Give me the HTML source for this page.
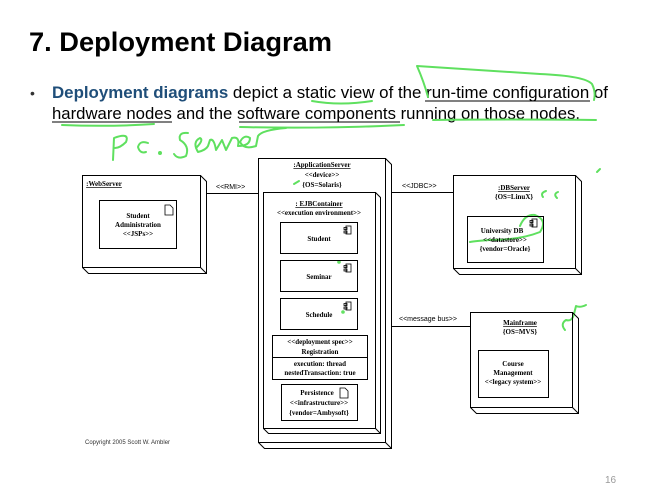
<!DOCTYPE html>
<html><head><meta charset="utf-8"><style>
html,body{margin:0;padding:0;background:#fff;}
svg{display:block;}
.s{font-family:"Liberation Serif",serif;font-weight:bold;font-size:7px;fill:#000;text-anchor:middle;}
.a{font-family:"Liberation Sans",sans-serif;font-size:7px;fill:#000;}
</style></head><body>
<svg width="649" height="501" viewBox="0 0 649 501" xmlns="http://www.w3.org/2000/svg">
<rect width="649" height="501" fill="#fff"/>
<text x="29" y="51" font-family="Liberation Sans, sans-serif" font-weight="bold" font-size="27" fill="#000" textLength="303" lengthAdjust="spacingAndGlyphs">7. Deployment Diagram</text>
<text x="30" y="98" font-family="Liberation Sans, sans-serif" font-size="14" fill="#333">•</text>
<text x="52" y="98" font-family="Liberation Sans, sans-serif" font-size="16.5" fill="#000" textLength="556" lengthAdjust="spacingAndGlyphs"><tspan font-weight="bold" fill="#1f4e79">Deployment diagrams</tspan> depict a static view of the run-time configuration of</text>
<text x="52" y="119" font-family="Liberation Sans, sans-serif" font-size="16.5" fill="#000" textLength="528" lengthAdjust="spacingAndGlyphs">hardware nodes and the software components running on those nodes.</text>
<g stroke="#000" stroke-width="1">
<line x1="425" y1="101" x2="590" y2="101"/>
<line x1="52" y1="122" x2="172" y2="122"/>
<line x1="239" y1="122" x2="400" y2="122"/>
</g>
<g fill="none" stroke="#5fe05f" stroke-width="2" stroke-linecap="round" stroke-linejoin="round">
<path d="M417 66 Q424 82 428 97 M417 66 Q480 70 540 74 Q585 76 592 84 Q596 92 594 100"/>
<path d="M312 101 Q340 106 372 101"/>
<path d="M62 125 Q110 127 154 124"/>
<path d="M240 127 Q320 129 404 125"/>
<path d="M433 120 Q510 119 596 120"/>
<path d="M113 160 L114 138 Q130 132 126 142 Q120 148 115 148"/>
<path d="M148 143 Q140 140 138 147 Q140 154 146 152"/>
<circle cx="160" cy="153" r="1"/>
<path d="M188 133 Q178 132 180 140 Q190 146 186 156 Q178 160 174 154"/>
<path d="M196 148 Q204 140 200 138 Q192 142 198 152 Q206 150 208 146 L210 140 Q214 138 216 150 L222 140 L226 150 L232 138 Q240 136 238 146 Q250 146 250 138 Q244 134 240 142 Q244 150 256 146 L258 136 Q262 130 286 128"/>
<path d="M546 191 Q540 193 543 197 M558 192 Q553 194 557 198"/>
<path d="M597 172 L600 169"/>
<path d="M294 184 L299 181"/>
<path d="M520 226 Q525 214 535 215 Q548 220 540 232 Q520 240 490 240 Q475 241 470 242"/>
<path d="M565 330 Q560 324 566 320 Q572 322 574 314 L576 306 Q580 308 586 305"/>
<circle cx="339" cy="262" r="0.8"/>
<circle cx="343" cy="312" r="0.8"/>
</g>
<g fill="none" stroke="#000" stroke-width="1">
<rect x="82.5" y="175.5" width="118" height="92"/>
<path d="M200.5 175.5 L206.5 181.5 L206.5 273.5 L88.5 273.5 L82.5 267.5"/>
<line x1="200.5" y1="267.5" x2="206.5" y2="273.5"/>
<rect x="99.5" y="200.5" width="77" height="48"/>
<line x1="206" y1="193.5" x2="258" y2="193.5"/>
<line x1="392" y1="192.5" x2="453" y2="192.5"/>
<line x1="392" y1="326.5" x2="470" y2="326.5"/>
<rect x="258.5" y="158.5" width="127" height="284"/>
<path d="M385.5 158.5 L391.5 164.5 L391.5 448.5 L264.5 448.5 L258.5 442.5"/>
<line x1="385.5" y1="442.5" x2="391.5" y2="448.5"/>
<rect x="263.5" y="192.5" width="112" height="236"/>
<path d="M375.5 192.5 L380.5 197.5 L380.5 433.5 L268.5 433.5 L263.5 428.5"/>
<line x1="375.5" y1="428.5" x2="380.5" y2="433.5"/>
<rect x="280.5" y="222.5" width="77" height="31"/>
<rect x="280.5" y="260.5" width="77" height="31"/>
<rect x="280.5" y="298.5" width="77" height="31"/>
<rect x="272.5" y="335.5" width="95" height="44"/>
<line x1="272.5" y1="357.5" x2="367.5" y2="357.5"/>
<rect x="281.5" y="384.5" width="76" height="36"/>
<rect x="453.5" y="175.5" width="122" height="93"/>
<path d="M575.5 175.5 L581.5 181.5 L581.5 274.5 L459.5 274.5 L453.5 268.5"/>
<line x1="575.5" y1="268.5" x2="581.5" y2="274.5"/>
<rect x="467.5" y="216.5" width="76" height="46"/>
<rect x="470.5" y="312.5" width="102" height="95"/>
<path d="M572.5 312.5 L578.5 318.5 L578.5 413.5 L476.5 413.5 L470.5 407.5"/>
<line x1="572.5" y1="407.5" x2="578.5" y2="413.5"/>
<rect x="478.5" y="350.5" width="70" height="47"/>
</g>
<g fill="none" stroke="#000" stroke-width="0.8">
<path d="M165 205 h5 l3 3 v7 h-8 z"/>
<path d="M340 388 h5 l3 3 v7 h-8 z"/>
<g id="c"><rect x="346" y="226" width="5" height="8"/><rect x="344" y="227.5" width="3" height="2"/><rect x="344" y="231" width="3" height="2"/></g>
<use href="#c" y="38"/>
<use href="#c" y="76"/>
<use href="#c" x="186" y="-7"/>
</g>
<text class="s" x="104" y="186" text-decoration="underline">:WebServer</text>
<text class="s" x="138" y="218">Student</text>
<text class="s" x="138" y="227">Administration</text>
<text class="s" x="138" y="236">&lt;&lt;JSPs&gt;&gt;</text>
<text class="a" x="216" y="189">&lt;&lt;RMI&gt;&gt;</text>
<text class="a" x="402" y="188">&lt;&lt;JDBC&gt;&gt;</text>
<text class="a" x="399" y="321">&lt;&lt;message bus&gt;&gt;</text>
<text class="s" x="322" y="167" text-decoration="underline">:ApplicationServer</text>
<text class="s" x="322" y="177">&lt;&lt;device&gt;&gt;</text>
<text class="s" x="322" y="187">{OS=Solaris}</text>
<text class="s" x="319" y="206" text-decoration="underline">: EJBContainer</text>
<text class="s" x="319" y="215">&lt;&lt;execution environment&gt;&gt;</text>
<text class="s" x="319" y="241">Student</text>
<text class="s" x="319" y="279">Seminar</text>
<text class="s" x="319" y="317">Schedule</text>
<text class="s" x="320" y="344">&lt;&lt;deployment spec&gt;&gt;</text>
<text class="s" x="320" y="354">Registration</text>
<text class="s" x="320" y="366">execution: thread</text>
<text class="s" x="320" y="375">nestedTransaction: true</text>
<text class="s" x="317" y="395">Persistence</text>
<text class="s" x="319" y="405">&lt;&lt;infrastructure&gt;&gt;</text>
<text class="s" x="319" y="415">{vendor=Ambysoft}</text>
<text class="s" x="514" y="190" text-decoration="underline">:DBServer</text>
<text class="s" x="514" y="199">{OS=LinuX}</text>
<text class="s" x="502" y="233">University DB</text>
<text class="s" x="505" y="242">&lt;&lt;datastore&gt;&gt;</text>
<text class="s" x="505" y="251">{vendor=Oracle}</text>
<text class="s" x="520" y="325" text-decoration="underline">Mainframe</text>
<text class="s" x="520" y="334">{OS=MVS}</text>
<text class="s" x="513" y="366">Course</text>
<text class="s" x="513" y="375">Management</text>
<text class="s" x="513" y="384">&lt;&lt;legacy system&gt;&gt;</text>
<text x="85" y="444" font-family="Liberation Sans, sans-serif" font-size="6" fill="#333">Copyright 2005 Scott W. Ambler</text>
<text x="605" y="483" font-family="Liberation Sans, sans-serif" font-size="10" fill="#999">16</text>
</svg>
</body></html>
